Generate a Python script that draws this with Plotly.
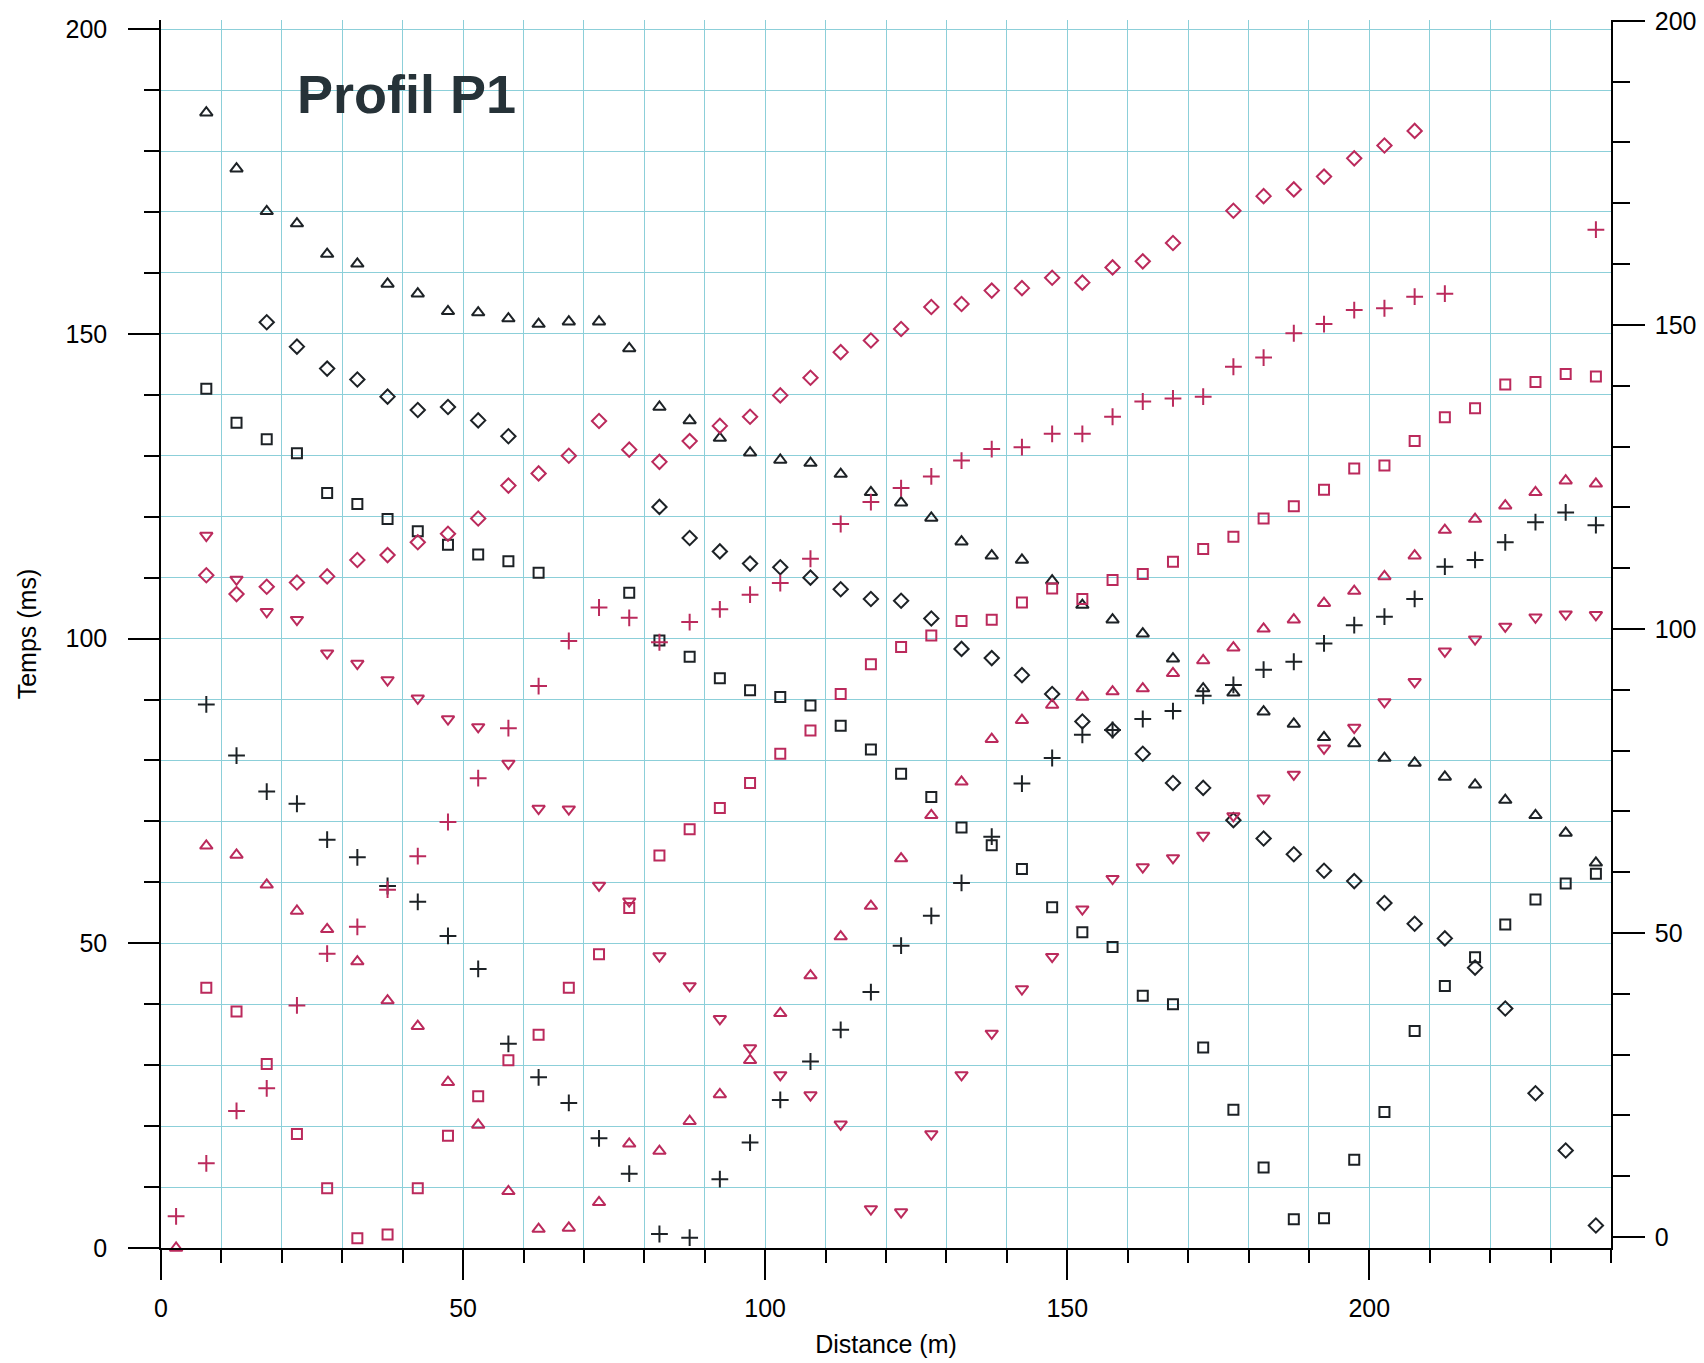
import plotly.graph_objects as go

# Geophone positions (m)
distance = [2.5, 7.5, 12.5, 17.5, 22.5, 27.5, 32.5, 37.5, 42.5, 47.5,
            52.5, 57.5, 62.5, 67.5, 72.5, 77.5, 82.5, 87.5, 92.5, 97.5,
            102.5, 107.5, 112.5, 117.5, 122.5, 127.5, 132.5, 137.5, 142.5, 147.5,
            152.5, 157.5, 162.5, 167.5, 172.5, 177.5, 182.5, 187.5, 192.5, 197.5,
            202.5, 207.5, 212.5, 217.5, 222.5, 227.5, 232.5, 237.5]

N = None
# Travel times (ms), one list per shot
black_triangle = [N, 186.3, 177.1, 170.1, 168.1, 163.1, 161.5, 158.2, 156.6, 153.7,
                  153.5, 152.5, 151.6, 152.0, 152.0, 147.6, 138.0, 135.8, 132.9, 130.5,
                  129.3, 128.8, 127.0, 124.0, 122.3, 119.8, 115.9, 113.6, 112.9, 109.5,
                  105.5, 103.1, 100.8, 96.7, 91.8, 91.1, 88.0, 86.0, 83.8, 82.8,
                  80.4, 79.6, 77.3, 76.0, 73.5, 71.0, 68.1, 63.2]
black_diamond = [N, N, N, 151.9, 147.9, 144.3, 142.5, 139.7, 137.5, 138.0,
                 135.8, 133.2, N, N, N, N, 121.6, 116.5, 114.3, 112.3,
                 111.7, 110.0, 108.1, 106.5, 106.2, 103.3, 98.3, 96.8, 94.0, 90.9,
                 86.4, 85.0, 81.1, 76.3, 75.5, 70.2, 67.2, 64.6, 61.9, 60.2,
                 56.6, 53.2, 50.8, 46.0, 39.3, 25.4, 16.0, 3.7]
black_square = [N, 141.0, 135.4, 132.7, 130.4, 123.9, 122.1, 119.6, 117.6, 115.4,
                113.8, 112.7, 110.8, N, N, 107.5, 99.7, 97.0, 93.5, 91.5,
                90.4, 89.0, 85.7, 81.8, 77.8, 74.0, 69.0, 66.1, 62.2, 55.9,
                51.8, 49.4, 41.4, 40.0, 32.9, 22.7, 13.2, 4.7, 4.9, 14.5,
                22.3, 35.6, 43.0, 47.7, 53.1, 57.2, 59.8, 61.4]
black_cross = [N, 89.2, 80.8, 74.9, 72.9, 67.0, 64.1, 59.4, 56.8, 51.2,
               45.8, 33.5, 28.0, 23.8, 18.0, 12.2, 2.3, 1.7, 11.3, 17.3,
               24.3, 30.6, 35.8, 42.0, 49.6, 54.5, 59.9, 67.5, 76.2, 80.4,
               84.2, 85.0, 86.8, 88.1, 90.6, 92.4, 94.9, 96.2, 99.2, 102.2,
               103.6, 106.5, 111.8, 112.9, 115.8, 119.1, 120.7, 118.6]
pink_diamond = [N, 110.4, 107.3, 108.5, 109.2, 110.2, 112.9, 113.7, 115.8, 117.2,
                119.7, 125.1, 127.1, 130.0, 135.7, 131.0, 129.0, 132.4, 134.9, 136.4,
                139.9, 142.8, 147.0, 148.9, 150.8, 154.4, 154.9, 157.1, 157.5, 159.2,
                158.4, 160.9, 161.9, 164.9, N, 170.2, 172.6, 173.7, 175.8, 178.8,
                180.9, 183.3, N, N, N, N, N, N]
pink_cross = [5.2, 13.9, 22.5, 26.2, 39.8, 48.3, 52.7, 58.8, 64.3, 69.9,
              77.1, 85.3, 92.2, 99.6, 105.1, 103.4, 99.4, 102.7, 104.8, 107.2,
              109.1, 113.1, 118.8, 122.4, 124.7, 126.6, 129.2, 131.1, 131.4, 133.6,
              133.6, 136.4, 138.9, 139.4, 139.7, 144.6, 146.1, 150.1, 151.6, 153.9,
              154.2, 156.1, 156.6, N, N, N, N, 167.1]
pink_square = [N, 42.7, 38.8, 30.2, 18.7, 9.8, 1.6, 2.2, 9.8, 18.4,
               24.9, 30.8, 35.0, 42.7, 48.2, 55.8, 64.4, 68.7, 72.2, 76.3,
               81.1, 84.9, 90.9, 95.8, 98.6, 100.5, 102.9, 103.1, 105.9, 108.2,
               106.5, 109.6, 110.6, 112.6, 114.7, 116.7, 119.7, 121.7, 124.4, 127.9,
               128.4, 132.4, 136.3, 137.8, 141.7, 142.1, 143.4, 143.0]
pink_triangle = [0.0, 66.0, 64.5, 59.6, 55.3, 52.3, 47.0, 40.6, 36.4, 27.2,
                 20.2, 9.3, 3.1, 3.3, 7.5, 17.1, 15.9, 20.8, 25.2, 30.8,
                 38.5, 44.7, 51.1, 56.1, 63.9, 71.0, 76.5, 83.5, 86.6, 89.1,
                 90.4, 91.3, 91.8, 94.3, 96.4, 98.5, 101.6, 103.1, 105.8, 107.8,
                 110.2, 113.6, 117.8, 119.6, 121.8, 124.0, 125.9, 125.4]
pink_triangle_down = [N, 116.9, 109.7, 104.4, 103.1, 97.6, 95.9, 93.2, 90.2, 86.8,
                      85.5, 79.5, 72.1, 72.0, 59.5, 56.9, 47.9, 43.0, 37.6, 32.8,
                      28.4, 25.1, 20.3, 6.4, 5.9, 18.7, 28.4, 35.2, 42.5, 47.8,
                      55.6, 60.6, 62.5, 64.0, 67.7, 70.9, 73.8, 77.7, 82.0, 85.4,
                      89.6, 92.9, 97.9, 99.9, 102.0, 103.5, 104.0, 103.9]

x_tick_vals = [0, 50, 100, 150, 200]
y_tick_vals = [0, 50, 100, 150, 200]

BLACK = "#1d2226"
PINK = "#bb2a5c"
GRID = "#8ccfd9"
FONT = "Liberation Sans, Arial, sans-serif"

series = [
    ("black_triangle", black_triangle, "triangle-up-open", BLACK, 11),
    ("black_diamond", black_diamond, "diamond-open", BLACK, 11),
    ("black_square", black_square, "square-open", BLACK, 10),
    ("black_cross", black_cross, "cross-thin-open", BLACK, 12),
    ("pink_diamond", pink_diamond, "diamond-open", PINK, 11),
    ("pink_cross", pink_cross, "cross-thin-open", PINK, 12),
    ("pink_square", pink_square, "square-open", PINK, 10),
    ("pink_triangle", pink_triangle, "triangle-up-open", PINK, 11),
    ("pink_triangle_down", pink_triangle_down, "triangle-down-open", PINK, 11),
]

fig = go.Figure()
for name, ys, sym, col, size in series:
    fig.add_trace(go.Scatter(
        x=distance, y=ys, mode="markers", name=name, showlegend=False,
        marker=dict(symbol=sym, size=size, color=col,
                    line=dict(color=col, width=2)),
        cliponaxis=False,
    ))

# dummy trace to carry the right-hand axis
fig.add_trace(go.Scatter(x=[None], y=[None], yaxis="y2", showlegend=False,
                         hoverinfo="skip", mode="markers"))

fig.update_layout(
    width=1704, height=1363,
    margin=dict(l=161, r=93, t=20, b=115),
    paper_bgcolor="white", plot_bgcolor="white",
    font=dict(family=FONT, color="black"),
    showlegend=False,
    xaxis=dict(
        range=[0, 240], tickvals=x_tick_vals, ticks="outside", ticklen=30,
        tickwidth=1.5, tickcolor="black", showline=True, linecolor="black",
        linewidth=1.5, zeroline=False, showgrid=True, gridcolor=GRID, gridwidth=1,
        tickfont=dict(size=25, family=FONT), ticklabelstandoff=7,
        minor=dict(dtick=10, tick0=0, ticks="outside", ticklen=13, tickwidth=1.5,
                   tickcolor="black", showgrid=True, gridcolor=GRID, gridwidth=1),
        title=dict(text="Distance (m)", font=dict(size=25, family=FONT), standoff=15),
        automargin=False,
    ),
    yaxis=dict(
        range=[0, 201.5], tickvals=y_tick_vals, ticks="outside", ticklen=31,
        tickwidth=1.5, tickcolor="black", showline=True, linecolor="black",
        linewidth=1.5, zeroline=False, showgrid=True, gridcolor=GRID, gridwidth=1,
        tickfont=dict(size=25, family=FONT), ticklabelstandoff=16,
        minor=dict(dtick=10, tick0=0, ticks="outside", ticklen=15, tickwidth=1.5,
                   tickcolor="black", showgrid=True, gridcolor=GRID, gridwidth=1),
        title=dict(text="Temps (ms)", font=dict(size=25, family=FONT), standoff=22),
        automargin=False,
    ),
    yaxis2=dict(
        overlaying="y", side="right", anchor="x",
        range=[-1.8, 200.14], tickvals=y_tick_vals, ticks="outside", ticklen=32,
        tickwidth=1.5, tickcolor="black", showline=True, linecolor="black",
        linewidth=1.5, zeroline=False, showgrid=False,
        tickfont=dict(size=25, family=FONT), ticklabelstandoff=5,
        minor=dict(dtick=10, tick0=0, ticks="outside", ticklen=17, tickwidth=1.5,
                   tickcolor="black", showgrid=False),
        automargin=False,
    ),
    annotations=[dict(
        text="<b>Profil P1</b>", x=40.6, y=189.4, xref="x", yref="y",
        showarrow=False, xanchor="center", yanchor="middle",
        font=dict(size=54, family=FONT, color="#263238"),
    )],
)

fig.write_html("out.html")
